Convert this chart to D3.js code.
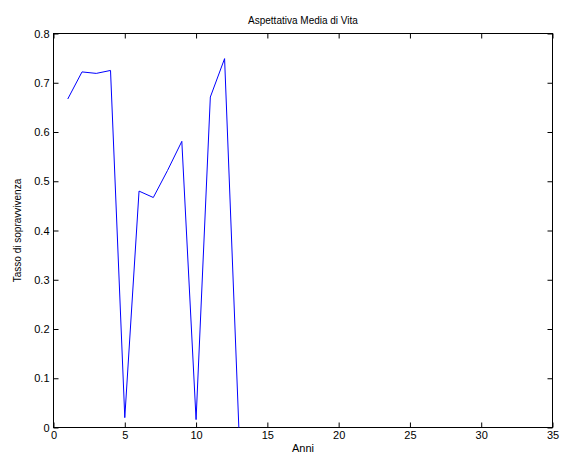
<!DOCTYPE html>
<html>
<head>
<meta charset="utf-8">
<script src="https://cdn.jsdelivr.net/npm/d3@7"></script>
<style>
  body { margin: 0; background: #fff; }
  text { font-family: "Liberation Sans", Arial, sans-serif; fill: #000; }
</style>
</head>
<body>
<div id="chart"></div>
<script>
// survival rate per year
var anni = [1, 2, 3, 4, 5, 6, 7, 8, 9, 10, 11, 12, 13];
var tasso = [0.667, 0.722, 0.719, 0.725, 0.02, 0.48, 0.467, 0.522, 0.581, 0.016, 0.671, 0.749, 0];

var xTicks = [0, 5, 10, 15, 20, 25, 30, 35];
var yTicks = [0, 0.1, 0.2, 0.3, 0.4, 0.5, 0.6, 0.7, 0.8];

var svgWidth = 561;
var svgHeight = 460;
var margin = { top: 33.5, right: 8.5, bottom: 32.5, left: 53.5 };
var width = svgWidth - margin.left - margin.right;
var height = svgHeight - margin.top - margin.bottom;

var svg = d3.select("#chart")
  .append("svg")
  .attr("width", svgWidth)
  .attr("height", svgHeight);

var g = svg.append("g")
  .attr("transform", `translate(${margin.left}, ${margin.top})`);

var x = d3.scaleLinear().domain([0, 35]).range([0, width]);
var y = d3.scaleLinear().domain([0, 0.8]).range([height, 0]);

var fmtY = function(d) { return d === 0 ? "0" : d3.format(".1f")(d); };

// bottom and left axes with inward ticks
g.append("g")
  .attr("transform", `translate(0, ${height})`)
  .call(d3.axisBottom(x).tickValues(xTicks).tickSizeInner(-5).tickSizeOuter(0).tickPadding(4))
  .call(a => a.select(".domain").remove());

g.append("g")
  .call(d3.axisLeft(y).tickValues(yTicks).tickFormat(fmtY).tickSizeInner(-5).tickSizeOuter(0).tickPadding(4))
  .call(a => a.select(".domain").remove());

// mirrored ticks on top and right
g.append("g")
  .call(d3.axisTop(x).tickValues(xTicks).tickSizeInner(-5).tickSizeOuter(0).tickFormat(""))
  .call(a => a.select(".domain").remove());

g.append("g")
  .attr("transform", `translate(${width}, 0)`)
  .call(d3.axisRight(y).tickValues(yTicks).tickSizeInner(-5).tickSizeOuter(0).tickFormat(""))
  .call(a => a.select(".domain").remove());

g.selectAll(".tick text")
  .attr("font-size", 11)
  .attr("font-family", "Liberation Sans, Arial, sans-serif");

// box round the plot area
g.append("rect")
  .attr("width", width)
  .attr("height", height)
  .attr("fill", "none")
  .attr("stroke", "#000")
  .attr("stroke-width", 1);

var line = d3.line()
  .x((d, i) => x(anni[i]))
  .y(d => y(d));

g.append("path")
  .datum(tasso)
  .attr("d", line)
  .attr("fill", "none")
  .attr("stroke", "#0000ff")
  .attr("stroke-width", 1);

// labels
svg.append("text")
  .attr("x", margin.left + width / 2)
  .attr("y", 24)
  .attr("text-anchor", "middle")
  .attr("font-size", 10)
  .text("Aspettativa Media di Vita");

svg.append("text")
  .attr("x", margin.left + width / 2)
  .attr("y", 452)
  .attr("text-anchor", "middle")
  .attr("font-size", 11)
  .text("Anni");

svg.append("text")
  .attr("transform", `translate(21, ${margin.top + height / 2}) rotate(-90)`)
  .attr("text-anchor", "middle")
  .attr("font-size", 10)
  .text("Tasso di sopravvivenza");
</script>
</body>
</html>
